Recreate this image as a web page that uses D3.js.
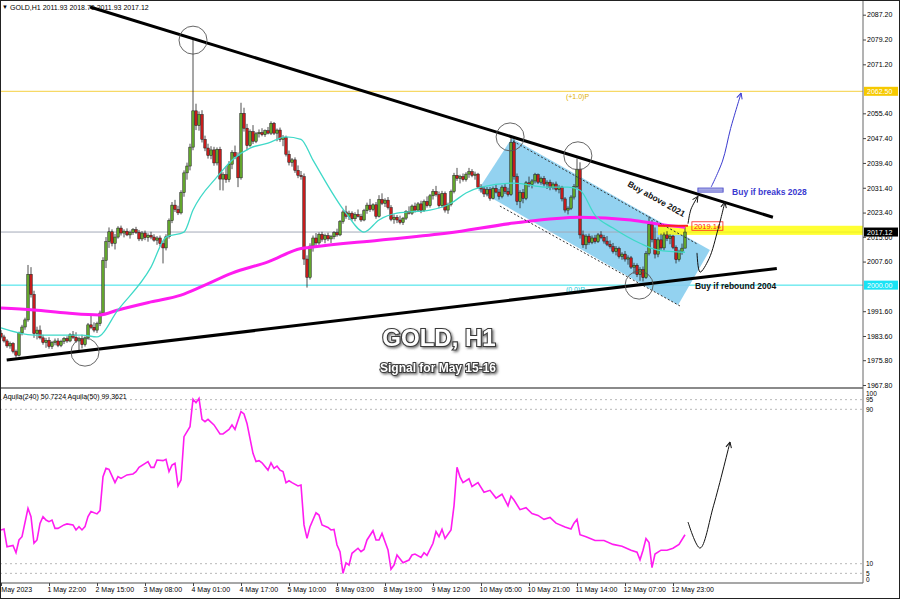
<!DOCTYPE html>
<html>
<head>
<meta charset="utf-8">
<script src="https://cdn.jsdelivr.net/npm/d3@7"></script>
<style>
  body { margin: 0; background: #fff; }
  svg { display: block; font-family: "Liberation Sans", Arial, sans-serif; }
</style>
</head>
<body>
<div id="container"></div>
<script>
/* DATA — hourly candles [open, high, low, close], one array per trading day */
const may01 = [
  [1984.5,1985.5,1982.8,1983.3],[1983.3,1984.0,1981.5,1982.0],[1982.0,1982.6,1979.8,1980.4],
  [1980.4,1981.8,1979.5,1981.2],[1981.2,1981.6,1978.0,1978.6],[1978.6,1979.2,1976.6,1977.4],
  [1977.4,1985.0,1977.0,1984.6],[1984.6,1987.2,1983.8,1986.5],[1986.5,1989.5,1985.6,1988.8],
  [1988.8,2006.5,1988.2,2003.5],[2003.5,2005.8,1996.0,1997.0],[1997.0,1998.2,1983.0,1984.4],
  [1984.4,1986.6,1982.5,1985.5],[1985.5,1987.0,1982.5,1983.0],[1983.0,1984.0,1980.8,1981.5],
  [1981.5,1983.0,1979.8,1982.2],[1982.2,1983.2,1979.5,1980.2],[1980.2,1982.0,1979.4,1981.5]
];
const may02 = [
  [1981.5,1982.8,1980.6,1982.0],[1982.0,1982.9,1980.0,1980.6],[1980.6,1982.4,1980.0,1981.9],
  [1981.9,1983.3,1981.0,1982.8],[1982.8,1983.5,1981.4,1982.0],[1982.0,1984.5,1981.6,1984.0],
  [1984.0,1985.2,1982.6,1983.2],[1983.2,1984.8,1981.4,1982.0],[1982.0,1983.4,1979.0,1982.8],
  [1982.8,1984.0,1979.6,1980.8],[1980.8,1983.5,1980.2,1983.0],[1983.0,1987.8,1982.5,1987.2],
  [1987.2,1990.5,1985.8,1986.4],[1986.4,1988.0,1984.8,1985.5],[1985.5,1988.2,1984.6,1987.6],
  [1987.6,1991.8,1986.8,1991.0],[1991.0,2009.0,1990.5,2008.0],[2008.0,2015.5,2005.5,2014.0],
  [2014.0,2018.6,2012.0,2017.2],[2017.2,2018.0,2012.5,2013.5],[2013.5,2016.5,2011.5,2015.5],
  [2015.5,2019.0,2015.0,2018.4],[2018.4,2019.2,2016.0,2016.8]
];
const may03 = [
  [2016.8,2018.0,2015.4,2017.4],[2017.4,2018.3,2015.8,2016.2],[2016.2,2017.6,2015.0,2017.0],
  [2017.0,2018.4,2016.2,2017.9],[2017.9,2018.8,2016.5,2017.0],[2017.0,2017.8,2014.2,2014.9],
  [2014.9,2017.4,2014.2,2016.8],[2016.8,2017.6,2014.5,2015.3],[2015.3,2016.7,2014.0,2016.1],
  [2016.1,2017.2,2014.8,2015.5],[2015.5,2016.4,2014.0,2014.5],[2014.5,2015.8,2013.0,2015.2],
  [2015.2,2016.0,2012.5,2013.4],[2013.4,2014.2,2007.0,2012.0],[2012.0,2016.4,2011.2,2015.6],
  [2015.6,2021.5,2015.0,2020.8],[2020.8,2026.8,2020.0,2025.8],[2025.8,2027.5,2023.6,2024.4],
  [2024.4,2025.6,2022.6,2023.3],[2023.3,2030.6,2022.8,2029.8],[2029.8,2037.0,2028.5,2036.2],
  [2036.2,2039.5,2034.0,2038.4],[2038.4,2045.6,2037.0,2044.5]
];
const may04 = [
  [2044.5,2079.4,2043.5,2056.2],[2056.2,2058.5,2050.0,2051.5],[2051.5,2056.0,2049.8,2055.0],
  [2055.0,2056.4,2046.0,2047.0],[2047.0,2048.2,2043.2,2044.2],[2044.2,2045.6,2040.8,2041.8],
  [2041.8,2044.8,2040.6,2043.6],[2043.6,2044.6,2038.5,2039.4],[2039.4,2044.4,2038.6,2043.8],
  [2043.8,2044.6,2030.6,2034.2],[2034.2,2036.4,2030.5,2035.6],[2035.6,2038.4,2033.0,2034.0],
  [2034.0,2040.0,2033.2,2039.0],[2039.0,2043.5,2037.4,2042.8],[2042.8,2045.0,2040.6,2041.5],
  [2041.5,2042.8,2031.6,2034.6],[2034.6,2058.8,2034.0,2055.4],[2055.4,2057.2,2049.5,2050.6],
  [2050.6,2052.0,2043.5,2045.0],[2045.0,2050.2,2044.6,2049.5],[2049.5,2051.6,2045.5,2046.4],
  [2046.4,2049.4,2045.8,2048.8],[2048.8,2050.2,2047.6,2049.2]
];
const may05 = [
  [2049.2,2050.6,2048.0,2048.5],[2048.5,2050.2,2047.8,2049.8],[2049.8,2051.0,2048.6,2049.0],
  [2049.0,2052.8,2048.4,2052.2],[2052.2,2052.6,2048.4,2049.0],[2049.0,2050.5,2046.4,2050.0],
  [2050.0,2050.8,2046.2,2047.0],[2047.0,2048.4,2044.8,2047.6],[2047.6,2048.2,2041.5,2042.2],
  [2042.2,2043.4,2038.6,2039.6],[2039.6,2041.0,2038.2,2040.4],[2040.4,2041.2,2036.2,2037.0],
  [2037.0,2038.6,2034.5,2035.4],[2035.4,2036.8,2034.0,2035.0],[2035.0,2036.0,2006.5,2008.4],
  [2008.4,2009.6,1999.2,2002.5],[2002.5,2013.5,2001.8,2012.6],[2012.6,2016.0,2010.8,2015.2],
  [2015.2,2016.8,2012.6,2013.6],[2013.6,2017.0,2013.0,2016.4],[2016.4,2017.2,2014.0,2014.8],
  [2014.8,2016.6,2013.5,2016.0],[2016.0,2016.9,2014.2,2014.9]
];
const may08 = [
  [2014.9,2016.2,2013.6,2015.6],[2015.6,2017.4,2014.8,2016.9],[2016.9,2018.2,2015.6,2016.2],
  [2016.2,2021.0,2015.8,2020.5],[2020.5,2024.2,2019.8,2023.6],[2023.6,2025.6,2021.4,2022.2],
  [2022.2,2024.0,2021.0,2023.2],[2023.2,2023.8,2020.8,2021.4],[2021.4,2023.5,2020.6,2022.8],
  [2022.8,2024.4,2021.8,2022.2],[2022.2,2023.0,2020.4,2021.0],[2021.0,2024.6,2020.6,2024.0],
  [2024.0,2026.6,2023.0,2025.8],[2025.8,2027.8,2023.6,2024.4],[2024.4,2026.4,2023.8,2025.9],
  [2025.9,2026.8,2021.4,2022.2],[2022.2,2029.0,2021.8,2027.6],[2027.6,2029.6,2025.8,2026.4],
  [2026.4,2028.0,2025.2,2027.4],[2027.4,2028.4,2024.4,2025.0],[2025.0,2025.8,2020.6,2021.2],
  [2021.2,2022.8,2019.8,2021.9],[2021.9,2022.6,2020.0,2021.0]
];
const may09 = [
  [2021.0,2022.4,2019.6,2020.2],[2020.2,2022.0,2019.4,2021.6],[2021.6,2024.2,2021.0,2023.8],
  [2023.8,2025.4,2022.8,2023.2],[2023.2,2026.0,2022.6,2025.5],[2025.5,2026.6,2023.4,2024.2],
  [2024.2,2026.8,2023.6,2026.2],[2026.2,2027.2,2023.2,2024.0],[2024.0,2027.6,2023.6,2027.0],
  [2027.0,2028.6,2025.0,2025.6],[2025.6,2029.4,2025.0,2028.8],[2028.8,2031.0,2027.6,2030.2],
  [2030.2,2032.0,2028.6,2029.2],[2029.2,2030.2,2024.8,2025.6],[2025.6,2030.4,2025.0,2029.6],
  [2029.6,2030.2,2023.4,2024.2],[2024.2,2026.6,2023.0,2026.0],[2026.0,2030.8,2025.4,2030.2],
  [2030.2,2036.2,2029.6,2035.4],[2035.4,2037.8,2033.6,2034.4],[2034.4,2035.6,2032.8,2035.0],
  [2035.0,2036.0,2033.4,2034.0],[2034.0,2036.4,2033.4,2035.8]
];
const may10 = [
  [2035.8,2037.8,2034.6,2036.6],[2036.6,2037.4,2034.8,2035.4],[2035.4,2036.6,2034.0,2035.8],
  [2035.8,2036.2,2031.0,2031.6],[2031.6,2032.6,2029.8,2031.0],[2031.0,2031.8,2028.4,2029.4],
  [2029.4,2031.6,2028.6,2030.8],[2030.8,2031.6,2027.2,2028.0],[2028.0,2031.8,2027.6,2031.2],
  [2031.2,2032.4,2029.6,2030.0],[2030.0,2031.0,2027.6,2028.6],[2028.6,2032.2,2028.0,2031.6],
  [2031.6,2032.6,2029.4,2030.2],[2030.2,2031.4,2028.6,2029.2],[2029.2,2048.2,2028.8,2046.0],
  [2046.0,2047.0,2034.0,2035.0],[2035.0,2036.0,2025.8,2027.0],[2027.0,2030.6,2024.8,2029.8],
  [2029.8,2031.0,2026.4,2028.0],[2028.0,2033.6,2027.4,2033.0],[2033.0,2035.0,2031.6,2032.4],
  [2032.4,2034.2,2031.2,2033.6],[2033.6,2036.2,2032.8,2035.6]
];
const may11 = [
  [2035.6,2036.0,2032.6,2033.2],[2033.2,2035.0,2032.4,2034.4],[2034.4,2035.2,2031.8,2032.6],
  [2032.6,2033.8,2031.0,2033.2],[2033.2,2034.0,2030.6,2031.4],[2031.4,2033.2,2030.8,2032.6],
  [2032.6,2033.4,2030.2,2030.8],[2030.8,2032.2,2029.6,2031.6],[2031.6,2032.0,2027.0,2027.8],
  [2027.8,2028.4,2023.4,2024.2],[2024.2,2025.4,2022.8,2024.8],[2024.8,2029.0,2024.2,2028.4],
  [2028.4,2032.6,2027.6,2031.8],[2031.8,2040.8,2031.2,2037.4],[2037.4,2039.6,2015.0,2016.2],
  [2016.2,2017.6,2012.0,2013.0],[2013.0,2016.4,2011.6,2015.8],[2015.8,2016.6,2013.0,2013.8],
  [2013.8,2016.0,2013.2,2015.2],[2015.2,2016.2,2013.4,2014.0],[2014.0,2016.8,2013.6,2016.2],
  [2016.2,2017.4,2014.8,2015.4],[2015.4,2016.2,2013.4,2014.2]
];
const may12 = [
  [2014.2,2015.8,2012.6,2013.2],[2013.2,2014.4,2011.8,2012.4],[2012.4,2013.6,2010.2,2010.8],
  [2010.8,2012.6,2009.6,2011.8],[2011.8,2012.4,2008.6,2009.2],[2009.2,2010.6,2008.2,2010.0],
  [2010.0,2011.0,2007.6,2008.4],[2008.4,2009.6,2006.6,2008.8],[2008.8,2009.4,2005.2,2005.8],
  [2005.8,2007.2,2003.6,2006.4],[2006.4,2007.0,2002.6,2003.4],[2003.4,2005.8,2001.4,2005.0],
  [2005.0,2006.0,2001.2,2002.4],[2002.4,2011.0,2002.0,2010.2],[2010.2,2022.2,2009.6,2019.6],
  [2019.6,2021.0,2013.8,2014.8],[2014.8,2018.6,2008.6,2010.0],[2010.0,2015.4,2009.0,2014.6],
  [2014.6,2016.6,2011.4,2012.0],[2012.0,2017.0,2011.2,2016.2],[2016.2,2017.4,2014.2,2015.0],
  [2015.0,2016.4,2013.2,2015.8],[2015.8,2016.2,2011.6,2012.2]
];
const may15 = [
  [2012.2,2012.8,2007.0,2008.2],[2008.2,2011.4,2007.6,2010.8],[2010.8,2013.4,2009.8,2011.93],
  [2011.93,2018.70,2011.93,2017.12]
];

// moving averages: [bar index, price]
const fastMA = [[0,1986.2],[11,1983.9],[27,1983.9],[32,1983.3],[39,1992.0],[50,2005.8],[55,2015.5],
  [61,2017.1],[64,2024.2],[72,2034.9],[77,2040.3],[83,2044.2],[89,2045.8],[95,2047.8],[100,2047.0],
  [104,2040.3],[115,2023.2],[121,2017.1],[126,2021.0],[132,2023.2],[143,2024.2],[150,2026.4],
  [155,2029.7],[160,2031.6],[171,2032.9],[182,2031.6],[189,2031.6],[193,2030.6],[198,2022.6],
  [204,2018.4],[213,2013.5],[219,2011.3],[228,2010.6]];
const slowMA = [[0,1992.6],[11,1992.0],[22,1991.0],[33,1990.4],[39,1992.0],[50,1994.6],[60,1996.8],
  [67,1999.6],[77,2003.9],[89,2007.5],[100,2011.8],[104,2012.3],[126,2014.5],[149,2016.8],
  [171,2020.0],[193,2021.9],[210,2021.0],[221,2019.4],[228,2018.7]];

// Aquila(50) oscillator: [bar index, value]
const aquila = [[0,27.5],[1,28],[2,18.8],[4,19.5],[5,15.7],[6,22.3],[7,24.0],[9,38.7],[10,34.4],
  [11,20.6],[12,22.3],[13,30.9],[14,34.4],[15,32.6],[16,31.8],[17,32.6],[18,28.3],[19,28.3],
  [21,30.1],[22,30.6],[24,30.1],[25,27.5],[26,29.2],[27,27.5],[28,29.2],[29,34.4],[30,37.0],
  [32,35.8],[33,37.5],[34,55.1],[35,59.4],[36,58.9],[38,52.0],[39,55.1],[40,54.2],[42,56.0],
  [44,56.5],[45,57.7],[46,59.9],[49,62.9],[50,59.9],[51,59.9],[52,63.7],[54,63.4],[55,64.1],
  [56,57.7],[57,61.1],[58,62.0],[59,50.3],[60,53.4],[61,75.8],[63,81.0],[64,95.2],[65,93.4],
  [66,95.7],[67,84.8],[68,83.6],[69,84.8],[71,81.9],[73,77.2],[74,77.2],[76,79.6],[77,81.9],
  [78,79.6],[80,88.8],[81,87.6],[82,82.7],[84,67.2],[85,62.9],[86,63.4],[87,62.3],[89,58.5],
  [90,62.3],[91,59.4],[92,60.6],[93,58.5],[94,57.7],[95,52.0],[96,53.0],[97,52.0],[99,50.3],
  [100,50.8],[101,30.1],[102,23.1],[103,29.2],[105,36.4],[106,35.2],[107,30.1],[109,28.8],
  [110,27.5],[111,27.8],[112,19.7],[113,16.2],[114,5.0],[115,10.5],[116,9.3],[117,15.4],
  [119,18.0],[120,16.2],[121,17.4],[122,22.3],[124,27.1],[125,22.3],[126,22.3],[127,25.7],
  [129,17.1],[130,7.1],[131,9.3],[132,14.5],[134,10.5],[136,11.9],[137,14.5],[138,15.0],
  [140,13.3],[141,15.7],[142,14.3],[144,20.6],[145,26.6],[146,24.0],[147,27.8],[148,23.1],
  [150,27.5],[151,40],[152,60],[153,55],[154,52],[156,54],[157,50],[159,52],[161,47],[163,48],
  [165,44],[167,46],[169,40],[170,45],[171,43],[173,38],[175,39],[177,36],[179,35],[181,33],
  [183,34],[185,31],[188,29],[190,28],[191,31],[192,33],[193,25],[195,24],[198,22],[201,22],
  [204,20],[207,19],[210,17],[212,16],[213,12],[214,17],[215,23],[216,21],[217,8],[218,15],
  [220,17],[222,17],[224,18],[226,20],[228,25]];

// axis ticks
const priceTicks = [2087.2, 2079.2, 2071.2, 2055.4, 2047.4, 2039.4, 2031.4, 2023.4, 2015.6,
  2007.6, 1991.6, 1983.6, 1975.8, 1967.8];
const timeTickBars = [0, 16, 32, 48, 64, 80, 96, 112, 128, 144, 160, 176, 192, 208, 224];
const timeTickLabels = ["1 May 2023", "1 May 22:00", "2 May 15:00", "3 May 08:00", "4 May 01:00",
  "4 May 17:00", "5 May 10:00", "8 May 03:00", "8 May 19:00", "9 May 12:00", "10 May 05:00",
  "10 May 21:00", "11 May 14:00", "12 May 07:00", "12 May 23:00"];
const aquilaLevels = [95, 90, 10, 5];
const aquilaLabels = [100, 95, 90, 10, 5, 0];

// drawn objects, in [bar index, price]
const resistance = [[29.7, 2089.7], [257.3, 2021.9]];
const support = [[1.9, 1975.85], [258.6, 2005.4]];
const channel = [[159, 2030.6], [170.3, 2047.4], [236.3, 2011.3], [225.7, 1993.6]];
const channelTop = [[170.7, 2046.4], [232, 2013.3]];
const channelBottom = [[166.3, 2025.5], [226.3, 1993.3]];
const touches = [[64, 2079.0], [169.7, 2047.8], [192.3, 2041.7], [28, 1978.4], [212.7, 2000.0]];
const fibHigh = 2062.5, fibLow = 2000.0, lastPrice = 2017.12, redLevel = 2019.14;
const buyZone = [2016.2, 2019.14];
const breakBox = [[232.3, 2031.3], [240.7, 2030.0]];
const blueArrow = [[236.7, 2031.6], [240.5, 2040.0], [243.2, 2050.5], [246.7, 2061.9]];
const arrowAbove = [[229, 2019.8], [230, 2024.5], [232.3, 2028.6]];
const arrowRebound = [[232, 2010.4], [233, 2004.2], [236, 2008.5], [239, 2018.0], [241.3, 2026.8]];
const arrowAquila = [[229, 31.6], [233, 18.1], [237.5, 40.0], [243, 73.0]];

const candles = [].concat(may01, may02, may03, may04, may05, may08, may09, may10, may11, may12, may15)
  .map((d, i) => ({ i, o: d[0], h: d[1], l: d[2], c: d[3] }));

/* SCALES */
const W = 900, H = 600, plotRight = 863, priceBottom = 388, lowTop = 390, lowBottom = 583;
const x = d3.scaleLinear().domain([0, 287.33]).range([1, plotRight]);
const y = d3.scaleLinear().domain([1967.8, 2087.2]).range([385, 14.7]);
const ya = d3.scaleLinear().domain([0, 100]).range([lowBottom, lowTop]);

const svg = d3.select("#container").append("svg").attr("width", W).attr("height", H);
const defs = svg.append("defs");
defs.append("clipPath").attr("id", "clipP").append("rect")
  .attr("x", 0).attr("y", 0).attr("width", plotRight).attr("height", priceBottom);
defs.append("clipPath").attr("id", "clipA").append("rect")
  .attr("x", 0).attr("y", lowTop).attr("width", plotRight).attr("height", lowBottom - lowTop);
defs.append("clipPath").attr("id", "clipX").append("rect")
  .attr("x", 0).attr("y", lowBottom).attr("width", plotRight).attr("height", H - lowBottom);
[["ahK", "#111"], ["ahB", "#3a3ad0"]].forEach(([id, col]) => {
  defs.append("marker").attr("id", id).attr("viewBox", "0 0 10 10").attr("refX", 9).attr("refY", 5)
    .attr("markerWidth", 7).attr("markerHeight", 7).attr("orient", "auto")
    .append("path").attr("d", "M1,1 L9,5 L1,9").attr("fill", "none").attr("stroke", col).attr("stroke-width", 1.4);
});
const shadow = defs.append("filter").attr("id", "shadow").attr("x", "-10%").attr("y", "-30%")
  .attr("width", "130%").attr("height", "180%");
shadow.append("feDropShadow").attr("dx", 1.5).attr("dy", 1.5).attr("stdDeviation", 1)
  .attr("flood-color", "#555").attr("flood-opacity", 0.8);

const P = (d) => [x(d[0]), y(d[1])];
const line = d3.line().x(d => x(d[0])).y(d => y(d[1]));

/* PRICE PANEL */
const gp = svg.append("g").attr("clip-path", "url(#clipP)");

gp.append("line").attr("x1", 0).attr("x2", plotRight).attr("y1", y(fibHigh)).attr("y2", y(fibHigh))
  .attr("stroke", "#f5d040").attr("stroke-width", 1);
gp.append("line").attr("x1", 0).attr("x2", plotRight).attr("y1", y(fibLow)).attr("y2", y(fibLow))
  .attr("stroke", "#30e0e8").attr("stroke-width", 1);
gp.append("text").attr("x", x(188.3)).attr("y", y(fibHigh) + 8).attr("font-size", 7)
  .attr("fill", "#e0b000").text("(+1.0)P");
gp.append("text").attr("x", x(188.3)).attr("y", y(fibLow) + 7).attr("font-size", 7)
  .attr("fill", "#20c8d8").text("(0.0)P");

gp.append("polygon").attr("points", channel.map(P).map(p => p.join(",")).join(" "))
  .attr("fill", "#87cdee").attr("opacity", 0.9);

gp.append("line").attr("x1", 0).attr("x2", plotRight).attr("y1", y(lastPrice)).attr("y2", y(lastPrice))
  .attr("stroke", "#a4a9b8").attr("stroke-width", 1);

gp.append("rect").attr("x", x(219)).attr("width", plotRight - x(219))
  .attr("y", y(buyZone[1])).attr("height", y(buyZone[0]) - y(buyZone[1]))
  .attr("fill", "#ffff00").attr("opacity", 0.8);

// candles
const cg = gp.append("g");
cg.selectAll(".wick").data(candles).join("line").attr("class", "wick")
  .attr("x1", d => x(d.i)).attr("x2", d => x(d.i)).attr("y1", d => y(d.h)).attr("y2", d => y(d.l))
  .attr("stroke", "#222").attr("stroke-width", 0.8);
cg.selectAll(".body").data(candles).join("rect").attr("class", "body")
  .attr("x", d => x(d.i) - 1.25).attr("width", 2.5)
  .attr("y", d => y(Math.max(d.o, d.c)))
  .attr("height", d => Math.max(0.8, Math.abs(y(d.o) - y(d.c))))
  .attr("fill", d => d.c >= d.o ? "#62a52c" : "#c41c1c")
  .attr("stroke", "#1c1c1c").attr("stroke-width", 0.5);

// moving averages
const maLine = d3.line().x(d => x(d[0])).y(d => y(d[1])).curve(d3.curveMonotoneX);
gp.append("path").attr("d", maLine(slowMA)).attr("fill", "none")
  .attr("stroke", "#ff1cf0").attr("stroke-width", 3);
gp.append("path").attr("d", maLine(fastMA)).attr("fill", "none")
  .attr("stroke", "#3fd9c8").attr("stroke-width", 1.3);

// channel dotted borders, trend lines
[channelTop, channelBottom].forEach(seg => {
  gp.append("path").attr("d", line(seg)).attr("stroke", "#333").attr("stroke-width", 1)
    .attr("stroke-dasharray", "2,2").attr("fill", "none");
});
[resistance, support].forEach(seg => {
  gp.append("path").attr("d", line(seg)).attr("stroke", "#000").attr("stroke-width", 3)
    .attr("fill", "none");
});

gp.selectAll(".touch").data(touches).join("circle").attr("class", "touch")
  .attr("cx", d => x(d[0])).attr("cy", d => y(d[1])).attr("r", 14)
  .attr("fill", "none").attr("stroke", "#555").attr("stroke-width", 0.9);

// red level
gp.append("line").attr("x1", x(219)).attr("x2", x(229)).attr("y1", y(redLevel)).attr("y2", y(redLevel))
  .attr("stroke", "#ff2020").attr("stroke-width", 2);
gp.append("rect").attr("x", x(230.3)).attr("y", y(redLevel) - 4).attr("width", 31).attr("height", 8.5)
  .attr("fill", "none").attr("stroke", "#ff2020").attr("stroke-width", 0.8);
gp.append("text").attr("x", x(230.3) + 2).attr("y", y(redLevel) + 3).attr("font-size", 7.5)
  .attr("fill", "#ff2020").text(redLevel.toFixed(2));

// breakout box + arrows
const bb = breakBox.map(P);
gp.append("rect").attr("x", bb[0][0]).attr("y", bb[0][1]).attr("width", bb[1][0] - bb[0][0])
  .attr("height", bb[1][1] - bb[0][1]).attr("fill", "#c4c8ee").attr("stroke", "#4646c8").attr("stroke-width", 0.9);
gp.append("line").attr("x1", bb[0][0]).attr("x2", bb[1][0]).attr("y1", (bb[0][1] + bb[1][1]) / 2)
  .attr("y2", (bb[0][1] + bb[1][1]) / 2).attr("stroke", "#4646c8").attr("stroke-width", 0.6);
const curve = d3.line().x(d => x(d[0])).y(d => y(d[1])).curve(d3.curveCatmullRom.alpha(0.5));
gp.append("path").attr("d", curve(blueArrow)).attr("fill", "none").attr("stroke", "#3a3ad0")
  .attr("stroke-width", 1).attr("marker-end", "url(#ahB)");
[arrowAbove, arrowRebound].forEach(pts => {
  gp.append("path").attr("d", curve(pts)).attr("fill", "none").attr("stroke", "#111")
    .attr("stroke-width", 1).attr("marker-end", "url(#ahK)");
});

// annotations text
gp.append("text").attr("x", x(243.7)).attr("y", y(2029.2)).attr("font-size", 8.5)
  .attr("font-weight", "bold").attr("fill", "#3a3ad0").text("Buy if breaks 2028");
const t1 = P(channelTop[0]), t2 = P(channelTop[1]);
const ang = Math.atan2(t2[1] - t1[1], t2[0] - t1[0]) * 180 / Math.PI;
gp.append("text").attr("transform", `translate(${x(218)},${y(2027)}) rotate(${ang})`)
  .attr("text-anchor", "middle").attr("font-size", 8.5).attr("font-weight", "bold")
  .attr("fill", "#111").text("Buy above 2021");
gp.append("text").attr("x", x(231.3)).attr("y", y(1998.8)).attr("font-size", 8.5)
  .attr("font-weight", "bold").attr("fill", "#111").text("Buy if rebound 2004");

// title
gp.append("text").attr("x", 439).attr("y", 346).attr("text-anchor", "middle")
  .attr("font-size", 24).attr("font-weight", "bold").attr("fill", "#fff")
  .attr("stroke", "#3a3a3a").attr("stroke-width", 2.2).attr("paint-order", "stroke")
  .attr("filter", "url(#shadow)").text("GOLD, H1");
gp.append("text").attr("x", 438).attr("y", 372).attr("text-anchor", "middle")
  .attr("font-size", 12).attr("font-weight", "bold").attr("fill", "#fff")
  .attr("stroke", "#3a3a3a").attr("stroke-width", 2).attr("paint-order", "stroke")
  .attr("filter", "url(#shadow)").text("Signal for May 15-16");

// header
svg.append("text").attr("x", 2).attr("y", 9).attr("font-size", 6).attr("fill", "#000").text("▼");
svg.append("text").attr("x", 10).attr("y", 10).attr("font-size", 7).attr("fill", "#000")
  .text("GOLD,H1  2011.93 2018.70 2011.93 2017.12");

/* LOWER PANEL */
const ga = svg.append("g").attr("clip-path", "url(#clipA)");
ga.selectAll(".lvl").data(aquilaLevels).join("line").attr("class", "lvl")
  .attr("x1", 0).attr("x2", plotRight).attr("y1", d => ya(d)).attr("y2", d => ya(d))
  .attr("stroke", "#b8b8b8").attr("stroke-width", 1).attr("stroke-dasharray", "2,3");
ga.append("path").attr("d", d3.line().x(d => x(d[0])).y(d => ya(d[1]))(aquila))
  .attr("fill", "none").attr("stroke", "#ff1cf0").attr("stroke-width", 1.6);
ga.append("path").attr("d", d3.line().x(d => x(d[0])).y(d => ya(d[1])).curve(d3.curveCatmullRom.alpha(0.5))(arrowAquila))
  .attr("fill", "none").attr("stroke", "#111").attr("stroke-width", 1).attr("marker-end", "url(#ahK)");
svg.append("text").attr("x", 3).attr("y", 399).attr("font-size", 7).attr("fill", "#000")
  .text("Aquila(240) 50.7224  Aquila(50) 99.3621");

/* FRAME + AXES */
svg.append("line").attr("x1", 0).attr("x2", plotRight).attr("y1", priceBottom).attr("y2", priceBottom)
  .attr("stroke", "#8a8a8a").attr("stroke-width", 2);
svg.append("line").attr("x1", 0).attr("x2", plotRight).attr("y1", lowBottom).attr("y2", lowBottom)
  .attr("stroke", "#8a8a8a").attr("stroke-width", 1.5);
svg.append("line").attr("x1", plotRight).attr("x2", plotRight).attr("y1", 0).attr("y2", lowBottom)
  .attr("stroke", "#666").attr("stroke-width", 1);

const yAxis = d3.axisRight(y).tickValues(priceTicks).tickSize(3).tickFormat(d3.format(".2f"));
const yAxisGroup = svg.append("g").attr("transform", `translate(${plotRight},0)`).call(yAxis);
yAxisGroup.select(".domain").remove();
yAxisGroup.selectAll("text").attr("font-size", 7).attr("font-family", "Liberation Sans, Arial").attr("x", 4);
yAxisGroup.selectAll("line").attr("stroke", "#444");

// price tags on the axis
[[fibHigh, "#f6c900", "#fff"], [lastPrice, "#000", "#fff"], [fibLow, "#19e3f5", "#fff"]].forEach(([v, bg, fg]) => {
  svg.append("rect").attr("x", plotRight + 1).attr("y", y(v) - 4.5).attr("width", 34).attr("height", 9).attr("fill", bg);
  svg.append("text").attr("x", plotRight + 4).attr("y", y(v) + 2.6).attr("font-size", 7)
    .attr("fill", fg).text(v.toFixed(2));
});

const aAxis = d3.axisRight(ya).tickValues(aquilaLabels).tickSize(0).tickFormat(d3.format("d"));
const aAxisGroup = svg.append("g").attr("transform", `translate(${plotRight},0)`).call(aAxis);
aAxisGroup.select(".domain").remove();
aAxisGroup.selectAll("text").attr("font-size", 6.5).attr("font-family", "Liberation Sans, Arial").attr("x", 3)
  .attr("dy", d => d === 100 ? "0.9em" : d === 0 ? "-0.2em" : "0.32em");

// time axis: outer group holds the clip (absolute coords), inner group is translated
const xAxis = d3.axisBottom(x).tickValues(timeTickBars).tickSize(3).tickFormat((d, k) => timeTickLabels[k]);
const xAxisGroup = svg.append("g").attr("clip-path", "url(#clipX)")
  .append("g").attr("transform", `translate(0,${lowBottom})`).call(xAxis);
xAxisGroup.select(".domain").remove();
xAxisGroup.selectAll("line").attr("stroke", "#444");
xAxisGroup.selectAll("text").attr("font-size", 7).attr("font-family", "Liberation Sans, Arial")
  .attr("fill", "#000").attr("text-anchor", "start")
  .attr("x", (d, k) => k === 0 ? -6 : -2).attr("dy", "0.9em").attr("y", 3);

svg.append("rect").attr("x", 0.5).attr("y", 0.5).attr("width", W - 1).attr("height", H - 2)
  .attr("fill", "none").attr("stroke", "#222").attr("stroke-width", 1);
</script>
</body>
</html>
